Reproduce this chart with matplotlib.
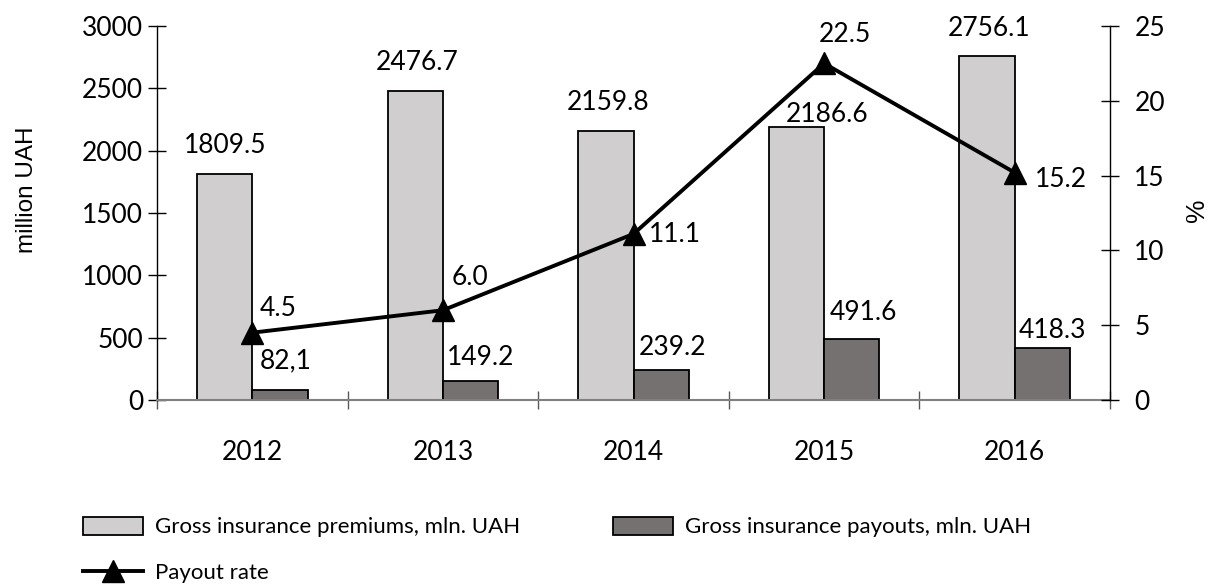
import matplotlib
matplotlib.use("Agg")
import matplotlib.pyplot as plt
import numpy as np
from matplotlib.patches import Patch
from matplotlib.lines import Line2D

years = ["2012", "2013", "2014", "2015", "2016"]
premiums = [1809.5, 2476.7, 2159.8, 2186.6, 2756.1]
payouts = [82.1, 149.2, 239.2, 491.6, 418.3]
rates = [4.5, 6.0, 11.1, 22.5, 15.2]
premium_labels = ["1809.5", "2476.7", "2159.8", "2186.6", "2756.1"]
payout_labels = ["82,1", "149.2", "239.2", "491.6", "418.3"]
rate_labels = ["4.5", "6.0", "11.1", "22.5", "15.2"]
left_ticks = [0, 500, 1000, 1500, 2000, 2500, 3000]
right_ticks = [0, 5, 10, 15, 20, 25]

LEG_PREM = "Gross insurance premiums, mln. UAH"
LEG_PAY = "Gross insurance payouts, mln. UAH"
LEG_RATE = "Payout rate"

FONT = ["Lato", "DejaVu Sans"]
ARIAL = ["Liberation Sans", "DejaVu Sans"]
plt.rcParams['font.family'] = FONT

W, H, DPI = 1208, 586, 100
fig = plt.figure(figsize=(W / DPI, H / DPI), dpi=DPI)
ax_l, ax_r, ax_b, ax_t = 157, 1110, 400, 26
ax = fig.add_axes([ax_l / W, 1 - ax_b / H, (ax_r - ax_l) / W, (ax_b - ax_t) / H])
px = 72.0 / DPI  # points per pixel

NUM = 19

x = np.arange(len(years))
bw = 0.29
c_prem = "#d0cece"
c_pay = "#767171"
b1 = ax.bar(x - bw / 2, premiums, bw, color=c_prem, edgecolor="black", linewidth=1.3, zorder=2)
b2 = ax.bar(x + bw / 2, payouts, bw, color=c_pay, edgecolor="black", linewidth=1.3, zorder=2)

ax.set_xlim(-0.5, len(years) - 0.5)
ax.set_ylim(0, 3000)
ax.set_yticks(left_ticks)
ax.tick_params(axis='y', direction='inout', length=13, width=1, labelsize=NUM, pad=3.5, color="black")
ax.set_xticks(np.arange(-0.5, len(years), 1.0))
ax.set_xticklabels([])
ax.set_xticks(x, minor=True)
ax.set_xticklabels(years, minor=True)
ax.tick_params(axis='x', which='major', direction='inout', length=13, width=1, color="#595959")
ax.tick_params(axis='x', which='minor', length=0, labelsize=NUM, pad=29)
for s in ["top", "right"]:
    ax.spines[s].set_visible(False)
ax.spines["left"].set_color("black")
ax.spines["left"].set_linewidth(1)
ax.spines["bottom"].set_color("#808080")
ax.spines["bottom"].set_linewidth(1.5)

ax.set_ylabel("million UAH", fontsize=17.5, family=ARIAL, va="center")
ax.yaxis.set_label_coords((27 - ax_l) / (ax_r - ax_l), (ax_b - 190) / (ax_b - ax_t))

ax2 = ax.twinx()
ax2.set_ylim(0, 25)
ax2.set_yticks(right_ticks)
ax2.tick_params(axis='y', direction='inout', length=13, width=1, labelsize=NUM, pad=11, color="black")
for s in ["top", "left", "bottom"]:
    ax2.spines[s].set_visible(False)
ax2.spines["right"].set_color("black")
ax2.spines["right"].set_linewidth(1)
ax2.set_ylabel("%", fontsize=19, family=ARIAL, va="center")
ax2.yaxis.set_label_coords((1197 - ax_l) / (ax_r - ax_l), (ax_b - 210) / (ax_b - ax_t))

ln, = ax2.plot(x, rates, color="black", linewidth=2.8, marker="^", markersize=16, zorder=3)

CAP = 9.5  # half cap height in px (for centring digits)
prem_off = [(0, 31), (2, 31), (2, 30), (31, 15), (2, 30)]
pay_off = [(6, 31), (10, 26), (11, 25), (12, 28), (10, 19)]
rate_off = [(26, 26), (27, 35), (41, 1), (21, 31), (46, -5)]
for i in range(len(years)):
    dx, dy = prem_off[i]
    ax.annotate(premium_labels[i], (x[i] - bw / 2, premiums[i]), xytext=(dx * px, (dy - CAP) * px),
                textcoords="offset points", ha="center", va="baseline", fontsize=NUM, zorder=4)
    dx, dy = pay_off[i]
    ax.annotate(payout_labels[i], (x[i] + bw / 2, payouts[i]), xytext=(dx * px, (dy - CAP) * px),
                textcoords="offset points", ha="center", va="baseline", fontsize=NUM, zorder=4)
    dx, dy = rate_off[i]
    ax2.annotate(rate_labels[i], (x[i], rates[i]), xytext=(dx * px, (dy - CAP) * px),
                 textcoords="offset points", ha="center", va="baseline", fontsize=NUM, zorder=4)

# legend
fs = 16
fpx = fs / px
h_prem = Patch(facecolor=c_prem, edgecolor="black", linewidth=1.3)
h_pay = Patch(facecolor=c_pay, edgecolor="black", linewidth=1.3)
h_rate = Line2D([], [], color="black", linewidth=2.8, marker="^", markersize=16)
common = dict(frameon=False, fontsize=fs, borderpad=0, borderaxespad=0, handlelength=60 / fpx,
              handleheight=19 / fpx, handletextpad=12 / fpx, loc="center left")
for h, lab, lx, ly in [(h_prem, LEG_PREM, 83, 527), (h_pay, LEG_PAY, 613, 527), (h_rate, LEG_RATE, 83, 573)]:
    lg = fig.legend([h], [lab], bbox_to_anchor=(lx / W, 1 - ly / H), **common)

fig.savefig("out.png", dpi=DPI)
